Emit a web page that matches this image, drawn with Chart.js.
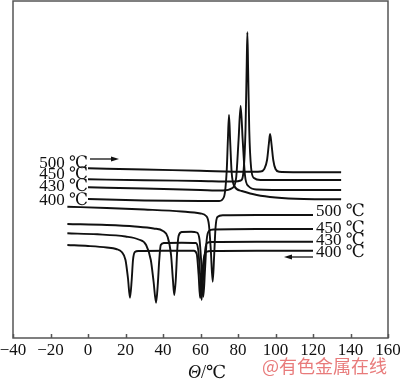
<!DOCTYPE html>
<html>
<head>
<meta charset="utf-8">
<script src="https://cdn.jsdelivr.net/npm/chart.js@4.4.1/dist/chart.umd.min.js"></script>
<style>
  html, body { margin: 0; padding: 0; background: #fff; }
  canvas { display: block; }
</style>
</head>
<body>
<canvas id="dsc" width="400" height="381"></canvas>
<script>
// DSC curves, x = temperature (°C), y = signal (arbitrary)
const xTickValues = [-40, -20, 0, 20, 40, 60, 80, 100, 120, 140, 160];

// heating curves (exothermic peaks up)
const heat500T = [0, 30, 60, 85, 92, 94, 95.5, 96.5, 97.1, 97.8, 98.8, 100, 102, 110, 135];
const heat500Y = [169.7, 168.5, 167.2, 166.2, 166.5, 169, 178, 195, 204, 195, 178, 169, 166.2, 165.8, 165.7];

const heat450T = [0, 30, 60, 78, 81.5, 83, 84, 84.6, 85, 85.4, 86, 87, 88.5, 92, 110, 135];
const heat450Y = [158.7, 157.8, 157, 156.5, 157.5, 168, 208, 268, 305.7, 268, 208, 170, 160, 158, 158, 158];

const heat430T = [0, 30, 60, 72, 77, 79, 80.3, 81.4, 82.5, 83.7, 85.5, 90, 110, 135];
const heat430Y = [150.7, 149.5, 148, 147.5, 150, 160, 198, 232, 198, 163, 152, 148.5, 148, 148];

const heat400T = [0, 30, 60, 70, 72.5, 74, 74.6, 75.2, 75.8, 76.6, 78, 82, 90, 100, 115, 135];
const heat400Y = [139, 137.5, 137, 137, 141, 168, 198, 223, 198, 166, 152, 147, 143, 140.5, 139, 138.7];

// cooling curves (peaks down)
const cool500T = [-11, 10, 30, 50, 60, 63, 64.5, 65.5, 66.5, 67.3, 68, 69, 72, 90, 120];
const cool500Y = [131.3, 130, 128.5, 126.5, 124.5, 122, 113, 88, 56.3, 83, 110, 121, 122.7, 123, 123];

const cool450T = [-11, 10, 25, 35, 40, 42.5, 44.3, 45.3, 46, 46.8, 47.6, 48.3, 50, 55, 58, 59.5, 60.5, 61.5, 62.4, 63.3, 64.5, 67, 90, 120];
const cool450Y = [114, 113, 111.5, 109.5, 107, 101, 83, 58, 43, 58, 88, 102, 106, 106.3, 105.5, 98, 73, 41.3, 68, 98, 107, 108.5, 109, 109];

const cool430T = [-11, 5, 20, 27, 31, 33.5, 35, 36.3, 37.2, 38, 38.8, 40.5, 50, 57.5, 58.8, 59.8, 60.6, 61.5, 62.5, 63.5, 66, 90, 120];
const cool430Y = [104.7, 103.7, 101.5, 98.5, 93, 78, 56, 35.3, 53, 78, 93, 95, 95.3, 95, 88, 63, 38, 63, 88, 95, 96, 96.3, 96.3];

const cool400T = [-11, 0, 10, 15, 18, 20, 21.3, 22.4, 23.3, 24, 25, 27, 40, 56.5, 58, 59, 59.8, 60.7, 61.8, 63, 66, 90, 120];
const cool400Y = [93, 92, 90.5, 89, 86, 78, 60, 40.3, 58, 78, 86, 87, 87.3, 87.3, 84, 63, 40, 60, 80, 86, 87, 87.3, 87.3];

const heatLabels = ['500 ℃', '450 ℃', '430 ℃', '400 ℃'];
const coolLabels = ['500 ℃', '450 ℃', '430 ℃', '400 ℃'];
const axisSymbol = 'Θ';
const axisUnit = '/℃';
const watermark = '@有色金属在线';

const curves = [
  [heat500T, heat500Y], [heat450T, heat450Y], [heat430T, heat430Y], [heat400T, heat400Y],
  [cool500T, cool500Y], [cool450T, cool450Y], [cool430T, cool430Y], [cool400T, cool400Y]
];

function toPoints(xs, ys) {
  return xs.map((t, i) => ({ x: t, y: ys[i] }));
}

const serif = '"Liberation Serif", "DejaVu Serif", serif';

function arrow(ctx, x1, x2, y) {
  const dir = Math.sign(x2 - x1);
  ctx.beginPath();
  ctx.moveTo(x1, y);
  ctx.lineTo(x2 - dir * 6, y);
  ctx.stroke();
  ctx.beginPath();
  ctx.moveTo(x2, y);
  ctx.lineTo(x2 - dir * 8, y - 2.5);
  ctx.lineTo(x2 - dir * 8, y + 2.5);
  ctx.closePath();
  ctx.fill();
}

const decor = {
  id: 'decor',
  afterDraw(chart) {
    const { ctx, chartArea: a, scales: { x } } = chart;
    ctx.save();

    // frame
    ctx.strokeStyle = '#555';
    ctx.lineWidth = 1.5;
    ctx.strokeRect(a.left, a.top, a.right - a.left, a.bottom - a.top);

    // inward ticks
    ctx.beginPath();
    xTickValues.forEach(v => {
      const px = Math.round(x.getPixelForValue(v)) + 0.5;
      ctx.moveTo(px, a.bottom);
      ctx.lineTo(px, a.bottom - 4);
    });
    ctx.stroke();

    // curve labels
    ctx.fillStyle = '#111';
    ctx.font = '17px ' + serif;
    ctx.textBaseline = 'middle';
    ctx.textAlign = 'right';
    const heatY = [163.5, 174.5, 186.5, 201];
    heatLabels.forEach((s, i) => ctx.fillText(s, 88, heatY[i]));
    ctx.textAlign = 'left';
    const coolY = [211.5, 228.5, 240.5, 253];
    coolLabels.forEach((s, i) => ctx.fillText(s, 316, coolY[i]));

    // direction arrows
    ctx.strokeStyle = '#111';
    ctx.lineWidth = 1.3;
    arrow(ctx, 90, 119, 159);
    arrow(ctx, 313, 284, 257);

    // axis title
    ctx.textAlign = 'left';
    ctx.font = 'italic 18px ' + serif;
    ctx.fillText(axisSymbol, 188, 373);
    const w = ctx.measureText(axisSymbol).width;
    ctx.font = '18px ' + serif;
    ctx.fillText(axisUnit, 188 + w, 373);

    // source mark
    ctx.fillStyle = 'rgba(228, 100, 100, 0.85)';
    ctx.font = '18px "Noto Sans CJK SC", sans-serif';
    ctx.fillText(watermark, 262, 366);

    ctx.restore();
  }
};

new Chart(document.getElementById('dsc'), {
  type: 'line',
  data: {
    datasets: curves.map(c => ({
      data: toPoints(c[0], c[1]),
      borderColor: '#111',
      borderWidth: 1.9,
      pointRadius: 0,
      fill: false,
      cubicInterpolationMode: 'monotone'
    }))
  },
  options: {
    responsive: false,
    animation: false,
    devicePixelRatio: 1,
    layout: { padding: { left: 13, right: 12, top: 1, bottom: 0 } },
    plugins: {
      legend: { display: false },
      tooltip: { enabled: false }
    },
    scales: {
      x: {
        type: 'linear',
        min: -40,
        max: 160,
        grid: { display: false },
        border: { display: false },
        afterBuildTicks: scale => {
          scale.ticks = xTickValues.map(v => ({ value: v }));
        },
        afterFit: scale => {
          scale.height = 43;
          scale.paddingLeft = 0;
          scale.paddingRight = 0;
        },
        ticks: {
          color: '#111',
          padding: -6,
          maxRotation: 0,
          autoSkip: false,
          font: { family: serif, size: 17 },
          callback: v => String(v).replace('-', '−')
        }
      },
      y: {
        display: false,
        min: 0,
        max: 337
      }
    }
  },
  plugins: [decor]
});
</script>
</body>
</html>
